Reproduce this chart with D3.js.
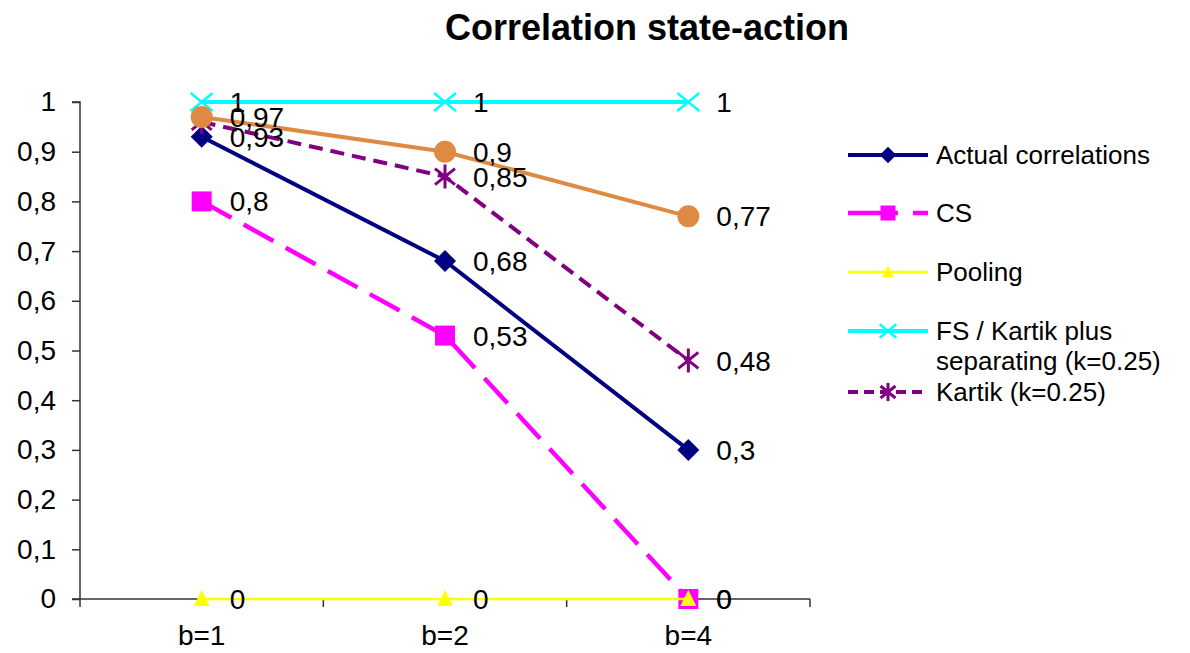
<!DOCTYPE html>
<html>
<head>
<meta charset="utf-8">
<script src="https://cdn.jsdelivr.net/npm/d3@7"></script>
<style>
  html, body { margin: 0; padding: 0; background: #fff; }
  svg { display: block; font-family: Arial, "Liberation Sans", sans-serif; }
</style>
</head>
<body>
<svg id="chart" width="1190" height="653"></svg>
<script>
// Categories on the x axis
const categories = ["b=1", "b=2", "b=4"];

// Series values
const actualCorrelations = [0.93, 0.68, 0.3];
const csValues = [0.8, 0.53, 0];
const poolingValues = [0, 0, 0];
const fsKartikValues = [1, 1, 1];
const kartikValues = [0.96, 0.85, 0.48];
const otherValues = [0.97, 0.9, 0.77];

// Y axis tick values
const yTicks = [0, 0.1, 0.2, 0.3, 0.4, 0.5, 0.6, 0.7, 0.8, 0.9, 1];

const fmt = v => String(+v.toFixed(2)).replace(".", ",");

const series = [
  { name: "Actual correlations", values: actualCorrelations, color: "#000080", width: 4, dash: null, legendDash: null, marker: "diamond", legend: true, labels: [true, true, true] },
  { name: "CS", values: csValues, color: "#FF00FF", width: 4.5, dash: "34,14", legendDash: "50,15,16,20", marker: "square", legend: true, labels: [true, true, true] },
  { name: "Pooling", values: poolingValues, color: "#FFFF00", width: 2.5, dash: null, legendDash: null, marker: "triangle", legend: true, labels: [true, true, true] },
  { name: "FS / Kartik plus separating (k=0.25)", values: fsKartikValues, color: "#00FFFF", width: 4, dash: null, legendDash: null, marker: "x", legend: true, labels: [true, true, true] },
  { name: "Kartik (k=0.25)", values: kartikValues, color: "#800080", width: 4, dash: "14,8", legendDash: "10,6", marker: "star", legend: true, labels: [false, true, true] },
  { name: "", values: otherValues, color: "#DE8A42", width: 4, dash: null, legendDash: null, marker: "circle", legend: false, labels: [true, true, true] }
];

const svg = d3.select("#chart");
const plot = { left: 80, right: 810, top: 102, bottom: 599 };

const x = d3.scaleBand().domain(categories).range([plot.left, plot.right]);
const xc = c => x(c) + x.bandwidth() / 2;
const y = d3.scaleLinear().domain([0, 1]).range([plot.bottom, plot.top]);

// Title
svg.append("text")
  .attr("x", 647).attr("y", 40)
  .attr("text-anchor", "middle")
  .attr("font-size", 36).attr("font-weight", "bold")
  .text("Correlation state-action");

// Y axis
const yAxis = d3.axisLeft(y).tickValues(yTicks).tickSize(8).tickPadding(16).tickFormat(fmt);
const gy = svg.append("g").attr("transform", `translate(${plot.left},0)`).call(yAxis);
gy.select(".domain").attr("stroke", "#333").attr("stroke-width", 1.5).attr("d", `M-8,${plot.top}H0V${plot.bottom}`);
gy.selectAll(".tick line").attr("stroke", "#333").attr("stroke-width", 1.5);
gy.selectAll(".tick text").attr("font-size", 28).attr("fill", "#000").attr("font-family", "Arial, 'Liberation Sans', sans-serif");

// X axis with ticks at band boundaries
const gx = svg.append("g").attr("transform", `translate(0,${plot.bottom})`);
gx.append("line").attr("x1", plot.left - 8).attr("x2", plot.right).attr("stroke", "#333").attr("stroke-width", 1.5);
const bounds = categories.map(c => x(c)).concat([plot.right]);
gx.selectAll(".xtick").data(bounds).join("line")
  .attr("x1", d => d).attr("x2", d => d).attr("y1", 0).attr("y2", 8)
  .attr("stroke", "#333").attr("stroke-width", 1.5);
gx.selectAll(".xlab").data(categories).join("text")
  .attr("x", d => xc(d)).attr("y", 46)
  .attr("text-anchor", "middle").attr("font-size", 28)
  .text(d => d);

// Marker shapes; k scales the glyph (smaller in the legend)
function drawMarker(g, type, color, k) {
  switch (type) {
    case "diamond":
      g.append("path").attr("d", `M0,${-11 * k}L${11 * k},0L0,${11 * k}L${-11 * k},0Z`).attr("fill", color);
      break;
    case "square":
      g.append("rect").attr("x", -10 * k).attr("y", -10 * k).attr("width", 20 * k).attr("height", 20 * k).attr("fill", color);
      break;
    case "triangle":
      g.append("path").attr("d", `M0,${-9 * k}L${8 * k},${7 * k}L${-8 * k},${7 * k}Z`).attr("fill", color);
      break;
    case "x":
      g.append("path").attr("d", `M${-11 * k},${-9 * k}L${11 * k},${9 * k}M${-11 * k},${9 * k}L${11 * k},${-9 * k}`)
        .attr("stroke", color).attr("stroke-width", 2.5).attr("fill", "none");
      break;
    case "star":
      g.append("path").attr("d", `M${-10 * k},${-8 * k}L${10 * k},${8 * k}M${-10 * k},${8 * k}L${10 * k},${-8 * k}M0,${-12 * k}V${12 * k}`)
        .attr("stroke", color).attr("stroke-width", 3).attr("fill", "none");
      break;
    case "circle":
      g.append("circle").attr("r", 11 * k).attr("fill", color);
      break;
  }
}

const line = d3.line().x((d, i) => xc(categories[i])).y(d => y(d));

// Lines and markers
series.forEach(s => {
  const g = svg.append("g");
  g.append("path").datum(s.values).attr("d", line)
    .attr("fill", "none").attr("stroke", s.color).attr("stroke-width", s.width)
    .attr("stroke-dasharray", s.dash);
  s.values.forEach((v, i) => {
    const m = g.append("g").attr("transform", `translate(${xc(categories[i])},${y(v)})`);
    drawMarker(m, s.marker, s.color, 1);
  });
});

// Data labels
series.forEach(s => {
  s.values.forEach((v, i) => {
    if (!s.labels[i]) return;
    svg.append("text")
      .attr("x", xc(categories[i]) + 28).attr("y", y(v))
      .attr("dy", "0.36em").attr("font-size", 28)
      .text(fmt(v));
  });
});

// Legend
const legendItems = series.filter(s => s.legend);
const legendY = [155, 213, 272, 331, 392];
const lg = svg.append("g");
legendItems.forEach((s, i) => {
  const ly = legendY[i];
  const g = lg.append("g").attr("transform", `translate(0,${ly})`);
  g.append("line").attr("x1", 848).attr("x2", 928).attr("y1", 0).attr("y2", 0)
    .attr("stroke", s.color).attr("stroke-width", s.width).attr("stroke-dasharray", s.legendDash);
  const m = g.append("g").attr("transform", "translate(888,0)");
  drawMarker(m, s.marker, s.color, 0.75);
  const t = g.append("text").attr("x", 936).attr("y", 0).attr("dy", "0.36em").attr("font-size", 26);
  if (s.name.startsWith("FS")) {
    t.append("tspan").attr("x", 936).text("FS / Kartik plus");
    t.append("tspan").attr("x", 936).attr("dy", 30).text("separating (k=0.25)");
  } else {
    t.text(s.name);
  }
});
</script>
</body>
</html>
